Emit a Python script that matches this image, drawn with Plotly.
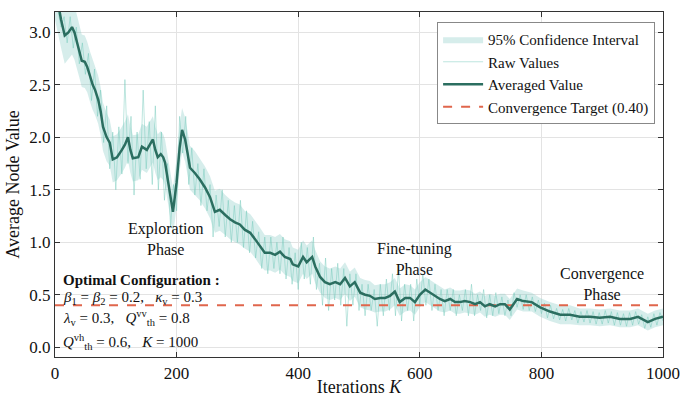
import plotly.graph_objects as go

# ---- data ----
mean_iter = [0, 5, 10, 16, 22, 28, 32, 36, 40, 44,
             49, 53, 58, 62, 66, 71, 75, 79, 85, 90,
             95, 102, 110, 115, 120, 124, 128, 137, 143, 151,
             156, 161, 165, 169, 174, 178, 181, 187, 194, 200,
             205, 209, 214, 218, 222, 230, 238, 247, 255, 263,
             271, 280, 288, 296, 304, 312, 321, 329, 337, 345,
             354, 362, 370, 378, 387, 391, 400, 408, 414, 423,
             428, 436, 444, 452, 461, 469, 477, 485, 493, 502,
             510, 518, 526, 535, 543, 551, 559, 567, 576, 584,
             592, 600, 609, 617, 625, 633, 641, 650, 658, 666,
             674, 683, 691, 699, 707, 715, 724, 732, 740, 748,
             760, 770, 784, 798, 814, 831, 847, 863, 880, 896,
             913, 929, 946, 959, 975, 987, 1000]
mean_val = [3.40, 3.28, 3.12, 2.97, 3.00, 3.05, 3.00, 2.92, 2.82, 2.73,
            2.72, 2.67, 2.57, 2.50, 2.45, 2.36, 2.25, 2.10, 2.00, 1.95,
            1.79, 1.81, 1.88, 1.93, 2.00, 1.88, 1.80, 1.81, 1.91, 1.88,
            1.93, 1.98, 1.88, 1.81, 1.84, 1.81, 1.76, 1.55, 1.29, 1.57,
            1.90, 2.07, 1.98, 1.85, 1.71, 1.66, 1.60, 1.52, 1.43, 1.29,
            1.31, 1.26, 1.22, 1.19, 1.17, 1.12, 1.09, 1.03, 0.96, 0.90,
            0.90, 0.88, 0.91, 0.86, 0.84, 0.79, 0.77, 0.86, 0.81, 0.86,
            0.77, 0.67, 0.62, 0.60, 0.62, 0.60, 0.66, 0.58, 0.62, 0.52,
            0.50, 0.49, 0.46, 0.47, 0.47, 0.49, 0.53, 0.43, 0.47, 0.47,
            0.43, 0.50, 0.55, 0.52, 0.49, 0.46, 0.44, 0.46, 0.43, 0.43,
            0.44, 0.43, 0.41, 0.43, 0.39, 0.41, 0.39, 0.41, 0.41, 0.36,
            0.46, 0.44, 0.43, 0.38, 0.34, 0.31, 0.31, 0.29, 0.29, 0.28,
            0.29, 0.27, 0.27, 0.29, 0.24, 0.27, 0.29]
ci_half = [0.28, 0.28, 0.27, 0.27, 0.26, 0.26, 0.26, 0.25, 0.25, 0.25,
           0.25, 0.24, 0.24, 0.24, 0.24, 0.23, 0.23, 0.23, 0.23, 0.22,
           0.22, 0.22, 0.22, 0.22, 0.22, 0.22, 0.22, 0.22, 0.22, 0.22,
           0.22, 0.22, 0.22, 0.22, 0.22, 0.22, 0.22, 0.22, 0.23, 0.23,
           0.22, 0.21, 0.21, 0.21, 0.21, 0.21, 0.20, 0.20, 0.20, 0.20,
           0.20, 0.19, 0.19, 0.19, 0.19, 0.18, 0.18, 0.18, 0.18, 0.17,
           0.17, 0.17, 0.17, 0.17, 0.17, 0.16, 0.16, 0.16, 0.16, 0.16,
           0.16, 0.15, 0.15, 0.15, 0.15, 0.15, 0.15, 0.14, 0.14, 0.14,
           0.14, 0.14, 0.13, 0.13, 0.13, 0.13, 0.13, 0.13, 0.13, 0.12,
           0.12, 0.12, 0.12, 0.12, 0.12, 0.12, 0.11, 0.11, 0.11, 0.11,
           0.11, 0.11, 0.10, 0.10, 0.10, 0.10, 0.10, 0.10, 0.10, 0.10,
           0.10, 0.10, 0.09, 0.09, 0.09, 0.09, 0.09, 0.08, 0.08, 0.08,
           0.08, 0.08, 0.08, 0.08, 0.08, 0.08, 0.08]

raw_iter = list(range(0, 1001, 5))
raw_val = [3.45, 3.20, 3.05, 3.15, 2.90, 3.15, 2.85, 3.05, 2.70, 2.90,
           2.60, 2.80, 2.35, 2.65, 2.20, 2.45, 1.95, 2.30, 1.70, 2.05,
           1.50, 2.10, 1.65, 2.55, 1.75, 2.20, 1.45, 2.05, 1.60, 2.45,
           1.70, 2.15, 1.55, 2.30, 1.50, 2.05, 1.40, 1.75, 1.15, 1.55,
           1.30, 2.20, 1.85, 2.20, 1.55, 1.90, 1.45, 1.75, 1.35, 1.70,
           1.30, 1.55, 1.05, 1.45, 1.15, 1.50, 1.05, 1.40, 1.00, 1.35,
           1.00, 1.40, 0.95, 1.30, 0.90, 1.20, 0.85, 1.10, 0.75, 1.05,
           0.70, 1.05, 0.75, 1.00, 0.70, 1.05, 0.65, 0.95, 0.60, 0.90,
           0.55, 1.00, 0.65, 0.95, 0.60, 1.05, 0.55, 0.80, 0.40, 0.85,
           0.35, 0.75, 0.45, 0.80, 0.40, 0.75, 0.20, 0.70, 0.40, 0.70,
           0.35, 0.60, 0.30, 0.60, 0.35, 0.55, 0.20, 0.60, 0.30, 0.65,
           0.35, 0.70, 0.30, 0.75, 0.25, 0.60, 0.35, 0.60, 0.25, 0.65,
           0.40, 0.70, 0.40, 0.65, 0.35, 0.60, 0.35, 0.55, 0.30, 0.55,
           0.35, 0.55, 0.30, 0.50, 0.35, 0.55, 0.30, 0.60, 0.30, 0.50,
           0.35, 0.55, 0.28, 0.50, 0.30, 0.52, 0.32, 0.48, 0.30, 0.45,
           0.30, 0.52, 0.38, 0.50, 0.36, 0.50, 0.35, 0.48, 0.34, 0.45,
           0.32, 0.42, 0.28, 0.40, 0.27, 0.37, 0.26, 0.36, 0.25, 0.37,
           0.26, 0.35, 0.23, 0.34, 0.24, 0.35, 0.23, 0.34, 0.22, 0.33,
           0.22, 0.35, 0.23, 0.34, 0.21, 0.33, 0.21, 0.32, 0.20, 0.33,
           0.21, 0.34, 0.22, 0.31, 0.18, 0.29, 0.19, 0.32, 0.21, 0.33,
           0.25]

target = 0.40
x_ticks = [0, 200, 400, 600, 800, 1000]
y_ticks = [0.0, 0.5, 1.0, 1.5, 2.0, 2.5, 3.0]

upper = [m + h for m, h in zip(mean_val, ci_half)]
lower = [m - h for m, h in zip(mean_val, ci_half)]

FONT = "Liberation Serif"
MEAN_C = "#2b6e60"
fig = go.Figure()

fig.add_trace(go.Scatter(
    x=mean_iter + mean_iter[::-1], y=upper + lower[::-1],
    fill="toself", fillcolor="rgba(130,200,195,0.33)",
    line=dict(width=0), mode="lines", hoverinfo="skip",
    name="95% Confidence Interval", legendrank=1))
fig.add_trace(go.Scatter(
    x=raw_iter, y=raw_val, mode="lines",
    line=dict(color="rgba(110,200,185,0.45)", width=1),
    name="Raw Values", legendrank=2))
fig.add_trace(go.Scatter(
    x=[0, 1000], y=[target, target], mode="lines",
    line=dict(color="#e0664c", width=2, dash="dash"),
    name="Convergence Target (0.40)", legendrank=4))
fig.add_trace(go.Scatter(
    x=mean_iter, y=mean_val, mode="lines",
    line=dict(color=MEAN_C, width=2.5),
    name="Averaged Value", legendrank=3))

ann_font = dict(family=FONT, size=16, color="#111")
for txt, xv, yv in [("Exploration<br>Phase", 183, 1.03),
                    ("Fine-tuning<br>Phase", 592, 0.84),
                    ("Convergence<br>Phase", 900, 0.60)]:
    fig.add_annotation(x=xv, y=yv, text=txt, showarrow=False,
                       font=ann_font, align="center")

cfg_font = dict(family=FONT, size=15, color="#111")
cfg_lines = [
    ("<b>Optimal Configuration :</b>", 0.64),
    ("<i>β</i><sub>1</sub> = <i>β</i><sub>2</sub> = 0.2,   <i>κ</i><sub>v</sub> = 0.3", 0.47),
    ("<i>λ</i><sub>v</sub> = 0.3,   <i>Q</i><sup>vv</sup><sub>th</sub> = 0.8", 0.275),
    ("<i>Q</i><sup>vh</sup><sub>th</sub> = 0.6,   <i>K</i> = 1000", 0.05),
]
for txt, yv in cfg_lines:
    fig.add_annotation(x=10, y=yv, text=txt, showarrow=False, font=cfg_font,
                       xanchor="left", yanchor="middle", align="left")

axis_common = dict(showline=True, linecolor="#333", linewidth=1.2, mirror="ticks",
                   ticks="inside", ticklen=5, tickcolor="#333", automargin=False,
                   showgrid=True, gridcolor="#e3e3e3", gridwidth=1,
                   zeroline=False, tickfont=dict(family=FONT, size=17, color="#111"))

fig.update_layout(
    width=681, height=397,
    margin=dict(l=55, r=18, t=12, b=40),
    paper_bgcolor="white", plot_bgcolor="white",
    font=dict(family=FONT, color="#111", size=16),
    xaxis=dict(range=[0, 1000], tickvals=x_ticks,
               title=dict(text="Iterations <i>K</i>", font=dict(family=FONT, size=18), standoff=2),
               **axis_common),
    yaxis=dict(range=[-0.093, 3.194], tickvals=y_ticks, tickformat=".1f",
               title=dict(text="Average Node Value", font=dict(family=FONT, size=18), standoff=4),
               **axis_common),
    legend=dict(x=0.987, xanchor="right", y=0.971, yanchor="top",
                bordercolor="#888", borderwidth=1, bgcolor="white",
                font=dict(family=FONT, size=15, color="#111"),
                tracegroupgap=0, itemwidth=40),
    showlegend=True,
)

fig.write_html("out.html")
